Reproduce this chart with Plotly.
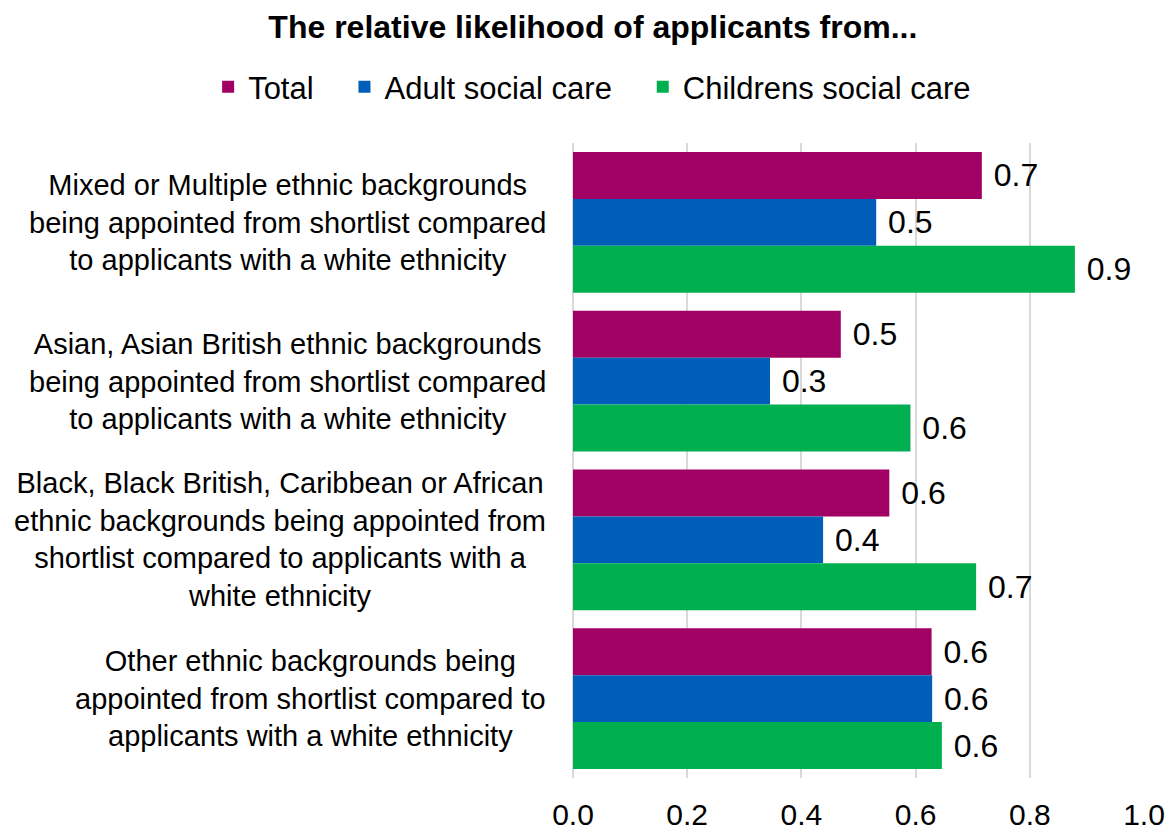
import plotly.graph_objects as go

# Ethnic background groups (top to bottom)
categories = [
    "Mixed or Multiple ethnic backgrounds<br>being appointed from shortlist compared<br>to applicants with a white ethnicity",
    "Asian, Asian British ethnic backgrounds<br>being appointed from shortlist compared<br>to applicants with a white ethnicity",
    "Black, Black British, Caribbean or African<br>ethnic backgrounds being appointed from<br>shortlist compared to applicants with a<br>white ethnicity",
    "Other ethnic backgrounds being<br>appointed from shortlist compared to<br>applicants with a white ethnicity",
]

# Relative likelihood of appointment from shortlist
total = [0.716, 0.469, 0.554, 0.628]
adult_social_care = [0.531, 0.345, 0.438, 0.629]
childrens_social_care = [0.879, 0.591, 0.706, 0.646]

series = [
    ("Total", total, "#A10064"),
    ("Adult social care", adult_social_care, "#005EB8"),
    ("Childrens social care", childrens_social_care, "#00B050"),
]

x_ticks = [0.0, 0.2, 0.4, 0.6, 0.8, 1.0]

FONT = "Liberation Sans, Arial, sans-serif"
LEGEND_PAD = "\u00a0" * 3  # extra room between legend entries

fig = go.Figure()
for name, values, colour in series:
    fig.add_trace(go.Bar(
        name=name + LEGEND_PAD,
        y=categories,
        x=values,
        orientation="h",
        marker=dict(color=colour, line=dict(width=0)),
        texttemplate="\u00a0%{x:.1f}",
        textposition="outside",
        constraintext="none",
        cliponaxis=False,
        textfont=dict(family=FONT, size=32, color="black"),
        hovertemplate=name + ": %{x:.2f}<extra></extra>",
    ))

# Category labels: right-aligned block, lines centred within it
for cat in categories:
    fig.add_annotation(
        x=0, xref="paper", xshift=-25, xanchor="right",
        y=cat, yref="y", yanchor="middle",
        text=cat, align="center", showarrow=False,
        font=dict(family=FONT, size=29, color="black"),
    )

fig.update_layout(
    width=1174, height=832,
    margin=dict(l=573, r=30, t=143, b=54, autoexpand=False),
    paper_bgcolor="white", plot_bgcolor="white",
    barmode="group", bargap=0.114, bargroupgap=0,
    font=dict(family=FONT, color="black"),
    title=dict(
        text="<b>The relative likelihood of applicants from...</b>",
        xref="container", x=0.505, xanchor="center",
        yref="container", y=1 - 27 / 832, yanchor="middle",
        font=dict(family=FONT, size=32, color="black"),
    ),
    legend=dict(
        orientation="h",
        xref="paper", x=-0.639, xanchor="left",
        yref="paper", y=1.088, yanchor="middle",
        font=dict(family=FONT, size=31, color="black"),
        itemclick=False,
        bgcolor="rgba(0,0,0,0)",
    ),
    showlegend=True,
)

fig.update_xaxes(
    range=[0, 1.0],
    tickvals=x_ticks,
    ticktext=[f"{v:.1f}" for v in x_ticks],
    showgrid=True, gridcolor="#D9D9D9", gridwidth=2,
    zeroline=True, zerolinecolor="#D9D9D9", zerolinewidth=2,
    showline=False, ticks="",
    automargin=False,
    ticklabelstandoff=16,
    tickfont=dict(family=FONT, size=30, color="black"),
)
fig.update_yaxes(
    autorange="reversed",
    automargin=False,
    showticklabels=False, showgrid=False, zeroline=False, showline=False,
    ticks="",
)

fig.write_html("out.html")
